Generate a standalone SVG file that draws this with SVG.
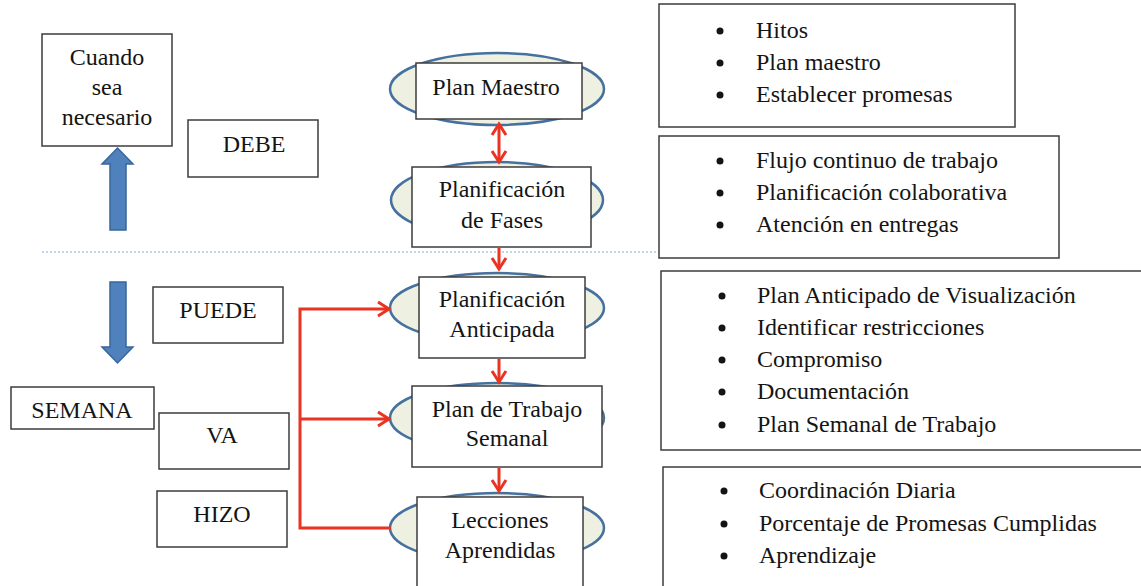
<svg xmlns="http://www.w3.org/2000/svg" width="1141" height="586" viewBox="0 0 1141 586">
<style>
text{font-family:"Liberation Serif","Times New Roman",serif;font-size:24px;fill:#141414}
.c{text-anchor:middle}
.box{fill:#fff;stroke:#3c3c3c;stroke-width:1.5}
.ell{fill:#eef0e1;stroke:#46719f;stroke-width:2.5}
.red{fill:none;stroke:#ea3320;stroke-width:3}
.blue{fill:#4f81bd;stroke:#3a6698;stroke-width:1.5}
.dot{fill:#141414}
</style>
<defs>
<marker id="ah" markerUnits="userSpaceOnUse" markerWidth="16" markerHeight="18" refX="12" refY="8" orient="auto-start-reverse" overflow="visible">
<path d="M1,1 L12,8 L1,15" fill="none" stroke="#ea3320" stroke-width="3"/>
</marker>
</defs>
<rect width="1141" height="586" fill="#fff"/>

<line x1="42" y1="252" x2="660" y2="252" stroke="#86abd3" stroke-width="1" stroke-dasharray="2 2"/>

<g id="cuando"><rect class="box" x="42" y="34" width="130" height="112"/>
<text class="c" x="107" y="65">Cuando</text><text class="c" x="107" y="95">sea</text><text class="c" x="107" y="125">necesario</text></g>
<g id="debe"><rect class="box" x="188" y="120" width="130" height="57"/><text class="c" x="254" y="152">DEBE</text></g>
<g id="puede"><rect class="box" x="153" y="287" width="130" height="56"/><text class="c" x="218" y="318">PUEDE</text></g>
<g id="semana"><rect class="box" x="11" y="387" width="143" height="42"/><text class="c" x="82" y="418">SEMANA</text></g>
<g id="va"><rect class="box" x="159" y="413" width="130" height="56"/><text class="c" x="222" y="443">VA</text></g>
<g id="hizo"><rect class="box" x="157" y="491" width="130" height="56"/><text class="c" x="222" y="522">HIZO</text></g>

<g id="arrow-up"><path class="blue" d="M117.5,148 L133,164 L126,164 L126,230 L110,230 L110,164 L102,164 Z"/></g>
<g id="arrow-down"><path class="blue" d="M110,282 L126,282 L126,347 L133,347 L117.5,363 L102,347 L110,347 Z"/></g>

<g id="plan-maestro"><ellipse class="ell" cx="497" cy="89" rx="107" ry="36"/><rect class="box" x="416" y="63" width="166" height="56"/>
<text class="c" x="496" y="95">Plan Maestro</text></g>
<g id="planificacion-fases"><ellipse class="ell" cx="497" cy="200" rx="106" ry="38"/><rect class="box" x="412" y="167" width="179" height="80"/>
<text class="c" x="502" y="197">Planificación</text><text class="c" x="502" y="228">de Fases</text></g>
<g id="planificacion-anticipada"><ellipse class="ell" cx="497" cy="308" rx="107" ry="35"/><rect class="box" x="419" y="277" width="166" height="81"/>
<text class="c" x="502" y="307">Planificación</text><text class="c" x="502" y="337">Anticipada</text></g>
<g id="plan-trabajo-semanal"><ellipse class="ell" cx="497" cy="418" rx="107" ry="35"/><rect class="box" x="412" y="386" width="190" height="81"/>
<text class="c" x="507" y="417">Plan de Trabajo</text><text class="c" x="507" y="446">Semanal</text></g>
<g id="lecciones-aprendidas"><ellipse class="ell" cx="497" cy="528" rx="107" ry="35"/><rect class="box" x="417" y="497" width="166" height="110"/>
<text class="c" x="500" y="528">Lecciones</text><text class="c" x="500" y="558">Aprendidas</text></g>

<g id="lista-1"><rect class="box" x="659" y="4" width="356" height="123"/>
<circle class="dot" cx="720" cy="31" r="3.5"/><circle class="dot" cx="720" cy="63" r="3.5"/><circle class="dot" cx="720" cy="95" r="3.5"/>
<text x="756" y="38">Hitos</text><text x="756" y="70">Plan maestro</text><text x="756" y="102">Establecer promesas</text></g>
<g id="lista-2"><rect class="box" x="659" y="136" width="400" height="122"/>
<circle class="dot" cx="720" cy="161" r="3.5"/><circle class="dot" cx="720" cy="193" r="3.5"/><circle class="dot" cx="720" cy="225" r="3.5"/>
<text x="756" y="168">Flujo continuo de trabajo</text><text x="756" y="200">Planificación colaborativa</text><text x="756" y="232">Atención en entregas</text></g>
<g id="lista-3"><rect class="box" x="661" y="271" width="490" height="179"/>
<circle class="dot" cx="722" cy="296" r="3.5"/><circle class="dot" cx="722" cy="328" r="3.5"/><circle class="dot" cx="722" cy="360" r="3.5"/><circle class="dot" cx="722" cy="392" r="3.5"/><circle class="dot" cx="722" cy="425" r="3.5"/>
<text x="757" y="303">Plan Anticipado de Visualización</text><text x="757" y="335">Identificar restricciones</text><text x="757" y="367">Compromiso</text><text x="757" y="399">Documentación</text><text x="757" y="432">Plan Semanal de Trabajo</text></g>
<g id="lista-4"><rect class="box" x="663" y="467" width="490" height="140"/>
<circle class="dot" cx="724" cy="491" r="3.5"/><circle class="dot" cx="724" cy="524" r="3.5"/><circle class="dot" cx="724" cy="556" r="3.5"/>
<text x="759" y="498">Coordinación Diaria</text><text x="759" y="531">Porcentaje de Promesas Cumplidas</text><text x="759" y="563">Aprendizaje</text></g>

<g id="connectors">
<line class="red" x1="499" y1="124" x2="499" y2="162" marker-start="url(#ah)" marker-end="url(#ah)"/>
<line class="red" x1="499" y1="248" x2="499" y2="269" marker-end="url(#ah)"/>
<line class="red" x1="499" y1="359" x2="499" y2="382" marker-end="url(#ah)"/>
<line class="red" x1="499" y1="468" x2="499" y2="491" marker-end="url(#ah)"/>
<path class="red" d="M391,528 L300,528 L300,309 L389,309" marker-end="url(#ah)"/>
<line class="red" x1="300" y1="419" x2="389" y2="419" marker-end="url(#ah)"/>
</g>
</svg>
